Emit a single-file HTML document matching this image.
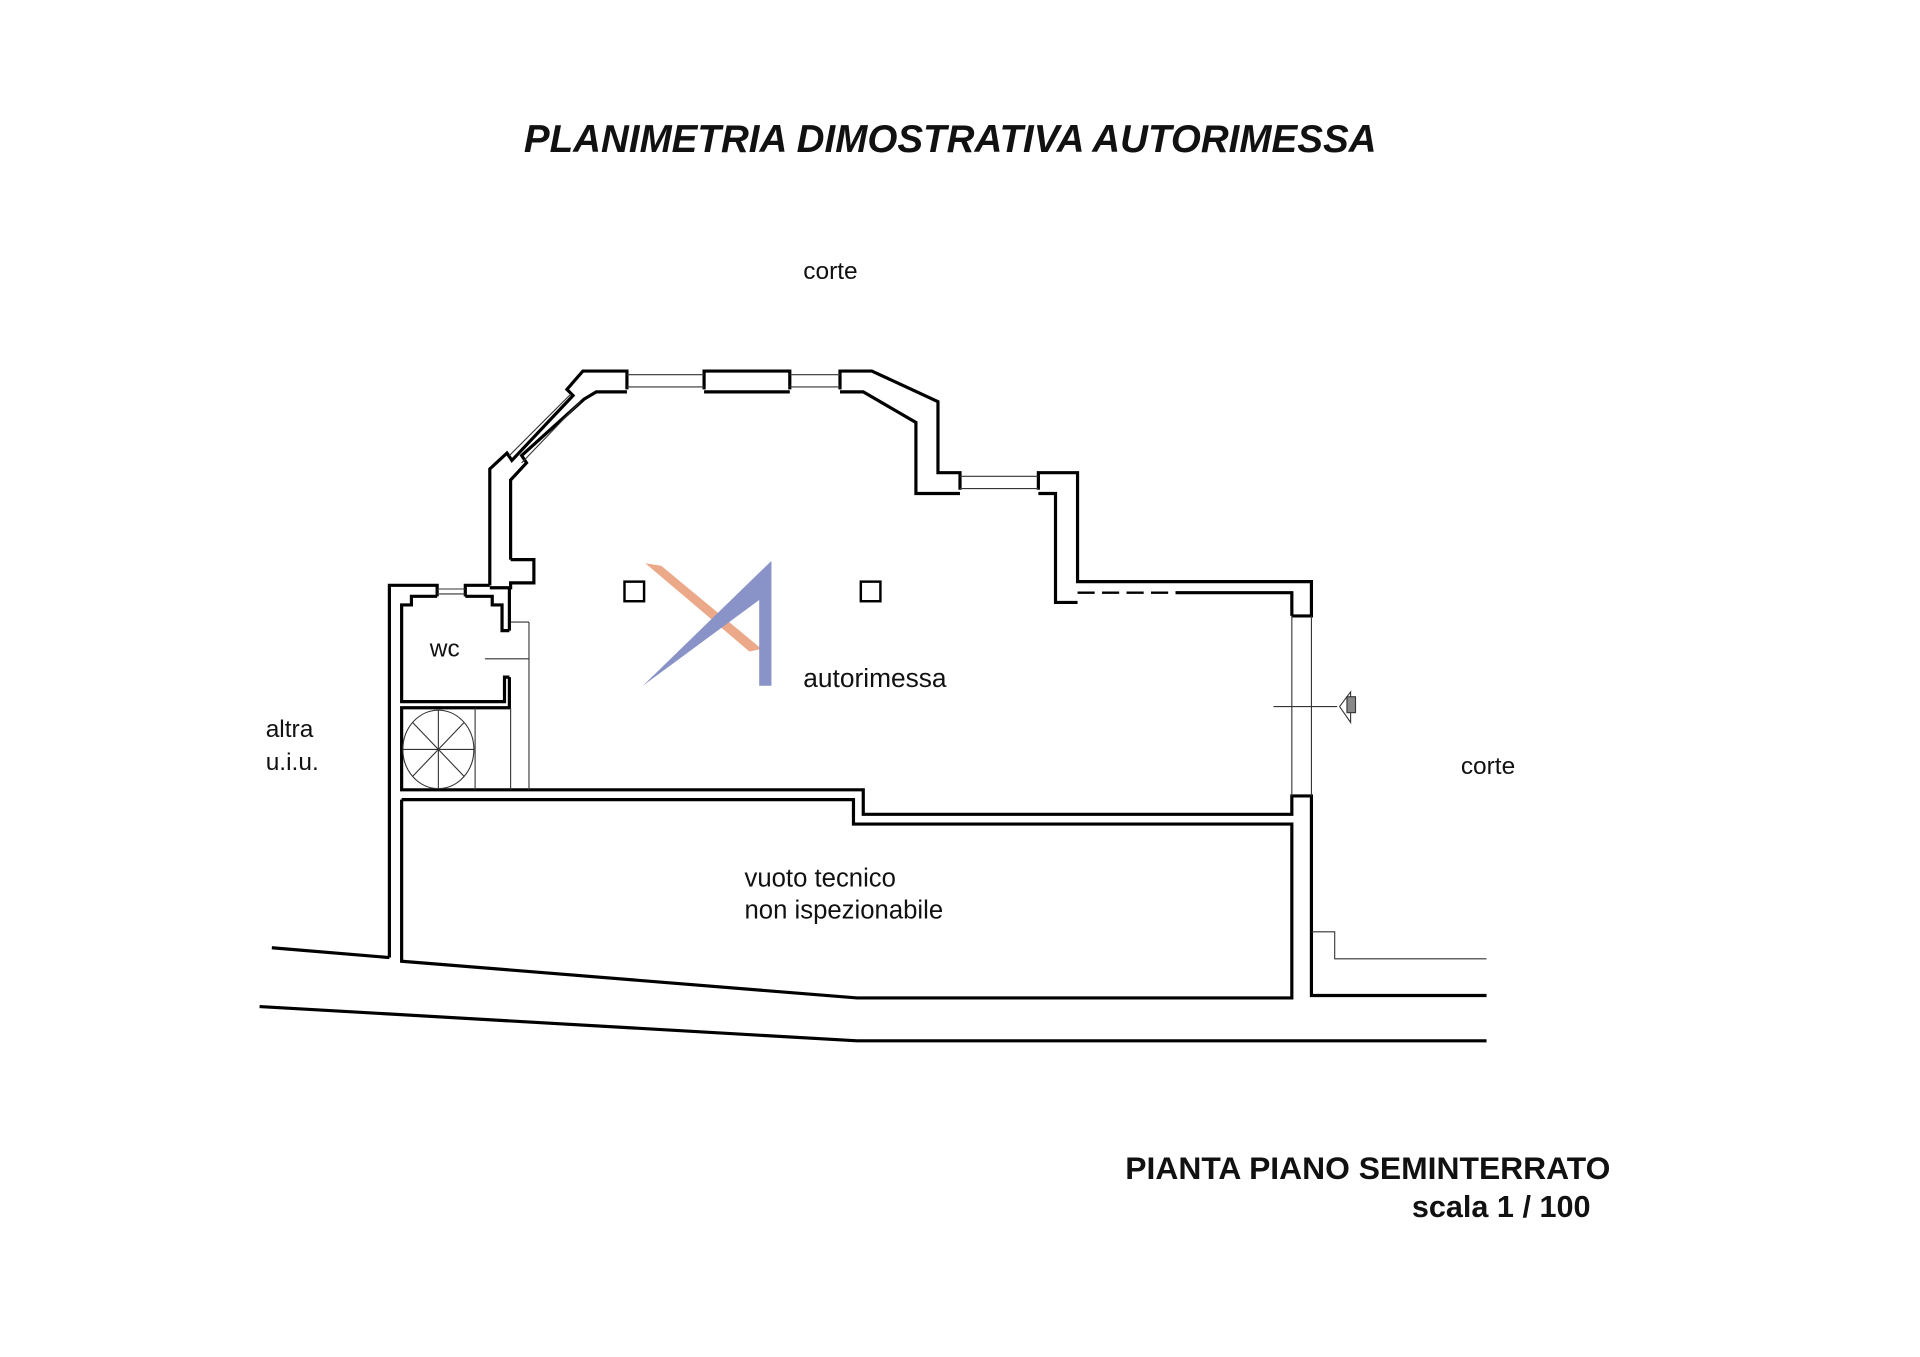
<!DOCTYPE html>
<html><head><meta charset="utf-8"><style>
html,body{margin:0;padding:0;background:#fff;}
svg{display:block;}
text{font-family:"Liberation Sans",Arial,sans-serif;fill:#111;}
</style></head><body>
<svg width="1920" height="1357" viewBox="0 0 1568 1108.2" xmlns="http://www.w3.org/2000/svg">
<rect width="1568" height="1108.2" fill="#fff"/>
<text x="776" y="124" font-size="31.5" font-weight="bold" font-style="italic" text-anchor="middle">PLANIMETRIA DIMOSTRATIVA AUTORIMESSA</text>

<polygon points="527,460 540,462 622,530 612,532" fill="#eba98a"/>
<path d="M525,560 L630,458 L630,560 L620,560 L620,490 Z" fill="#8a93c8"/>

<g fill="none" stroke="#000" stroke-width="2.6" stroke-linejoin="miter">
<polyline points="400,478 400,383 414,370 418,376 468,323 463,318 476,303 512,303 512,318"/>
<polyline points="575,318 575,303 645,303 645,318"/>
<polyline points="686,318 686,303 712,303 766,328 766,386 784,386 784,400"/>
<polyline points="848,400 848,386 880,386 880,475 1071,475 1071,503 1055,503"/>
<polyline points="417,457 417,392 430,378 426,372 477,326 487,320 512,320"/>
<polyline points="575,320 645,320"/>
<polyline points="686,320 705,320 748,345 748,403 784,403"/>
<polyline points="848,403 862,403 862,492 880,492"/>
<polyline points="960,484 1055,484 1055,503"/>
<polyline points="417,457 436,457 436,476 417,476 417,480 400,480"/>
<polyline points="318,782 318,478 357,478 357,487"/>
<polyline points="380,487 380,478 400,478"/>
<polyline points="357,487 336,487 336,494 328,494 328,573 412,573 412,553 416,553"/>
<polyline points="380,487 402,487 402,494 410,494 410,515 416,515"/>
<polyline points="416,480 416,515"/>
<polyline points="416,553 416,578 328,578 328,645 705,645 705,665 1055,665 1055,650 1071,650 1071,813 1214,813"/>
<polyline points="328,653 697,653 697,673 1055,673 1055,815 700,815 328,785 328,653"/>
<polyline points="222,774 318,782"/>
<polyline points="212,822 700,850 1214,850"/>
<rect x="510" y="475" width="16" height="16" stroke-width="2"/>
<rect x="703" y="475" width="16" height="16" stroke-width="2"/>
</g>
<g fill="none" stroke="#000" stroke-width="2" stroke-dasharray="14,6"><line x1="880" y1="484" x2="960" y2="484"/></g>

<g fill="none" stroke="#333" stroke-width="0.9">
<line x1="512" y1="306" x2="575" y2="306"/><line x1="512" y1="316" x2="575" y2="316"/>
<line x1="645" y1="306" x2="686" y2="306"/><line x1="645" y1="316" x2="686" y2="316"/>
<line x1="784" y1="389" x2="848" y2="389"/><line x1="784" y1="399" x2="848" y2="399"/>
<line x1="416" y1="372" x2="466" y2="322"/><line x1="426" y1="378" x2="474" y2="328"/>
<line x1="357" y1="481" x2="380" y2="481"/><line x1="357" y1="485" x2="380" y2="485"/>
<line x1="1055" y1="503" x2="1055" y2="650"/><line x1="1071" y1="503" x2="1071" y2="650"/>
<line x1="417" y1="508" x2="432" y2="508"/><line x1="432" y1="508" x2="432" y2="645"/>
<line x1="417" y1="578" x2="417" y2="645"/>
<line x1="396" y1="538" x2="432" y2="538"/>
<line x1="1040" y1="577" x2="1092" y2="577"/>
<polyline points="1071,761 1090,761 1090,783 1214,783"/>
<line x1="388" y1="578" x2="388" y2="645"/>
<ellipse cx="358" cy="612" rx="29" ry="32"/>
<line x1="329" y1="612" x2="387" y2="612"/><line x1="358" y1="580" x2="358" y2="644"/>
<line x1="337" y1="590" x2="379" y2="634"/><line x1="379" y1="590" x2="337" y2="634"/>
<polygon points="1094,577 1103,565 1103,590"/>
<rect x="1100" y="569" width="7" height="13" fill="#888"/>
</g>

<g font-size="20">
<text x="656" y="228">corte</text>
<text x="656" y="561" font-size="21.5">autorimessa</text>
<text x="351" y="536">wc</text>
<text x="217" y="602">altra</text>
<text x="217" y="629">u.i.u.</text>
<text x="1193" y="632">corte</text>
<text x="608" y="724" font-size="21">vuoto tecnico</text>
<text x="608" y="750" font-size="21">non ispezionabile</text>
</g>
<text x="919" y="963" font-size="26" font-weight="bold">PIANTA PIANO SEMINTERRATO</text>
<text x="1153" y="994" font-size="25" font-weight="bold">scala 1 / 100</text>
</svg>
</body></html>
